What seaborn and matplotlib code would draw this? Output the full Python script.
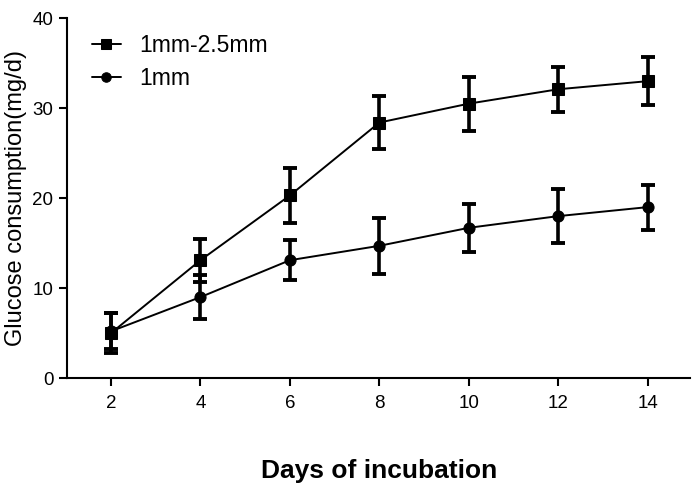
import matplotlib
matplotlib.use("Agg")
import matplotlib.pyplot as plt
import seaborn as sns
import pandas as pd

days = [2, 4, 6, 8, 10, 12, 14]
series_names = ["1mm-2.5mm", "1mm"]
mean_large = [5.0, 13.1, 20.3, 28.4, 30.5, 32.1, 33.0]
err_large = [2.2, 2.4, 3.1, 2.9, 3.0, 2.5, 2.7]
mean_small = [5.2, 9.0, 13.1, 14.7, 16.7, 18.0, 19.0]
err_small = [2.0, 2.4, 2.2, 3.1, 2.7, 3.0, 2.5]
y_ticks = [0, 10, 20, 30, 40]
x_ticks = [2, 4, 6, 8, 10, 12, 14]

sns.set_theme(style="ticks")
plt.rcParams['font.family'] = ['Liberation Sans', 'DejaVu Sans']
plt.rcParams['text.color'] = 'black'
plt.rcParams['axes.labelcolor'] = 'black'

df = pd.DataFrame({
    "day": days * 2,
    "value": mean_large + mean_small,
    "err": err_large + err_small,
    "series": [series_names[0]] * len(days) + [series_names[1]] * len(days),
})

fig = plt.figure(figsize=(7, 4.91), dpi=100)
ax = fig.add_axes([0.096, 0.230, 0.890, 0.733])

sns.lineplot(data=df, x="day", y="value", hue="series", style="series",
             markers={series_names[0]: "s", series_names[1]: "o"}, dashes=False,
             palette={series_names[0]: "black", series_names[1]: "black"},
             markersize=8, linewidth=1.4, markeredgecolor="black", ax=ax)

for name in series_names:
    sub = df[df["series"] == name]
    ax.errorbar(sub["day"], sub["value"], yerr=sub["err"], fmt="none",
                ecolor="black", elinewidth=2.6, capsize=5, capthick=2.8, zorder=3)

ax.set_xlim(1.02, 14.95)
ax.set_ylim(0, 40)
ax.set_xticks(x_ticks)
ax.set_yticks(y_ticks)
ax.tick_params(axis="both", direction="out", length=6, width=1.5, labelsize=13.5,
               colors="black", pad=4)
ax.tick_params(axis="x", pad=6)
for s in ["left", "bottom"]:
    ax.spines[s].set_linewidth(1.5)
    ax.spines[s].set_color("black")
sns.despine(ax=ax)

ax.set_xlabel("Days of incubation", fontsize=19, fontweight="bold", labelpad=34)
ax.set_ylabel("Glucose consumption(mg/d)", fontsize=17, labelpad=4)

leg = ax.legend(loc="upper left", frameon=False, fontsize=16.5, handlelength=1.3,
                handletextpad=0.8, bbox_to_anchor=(0.006, 1.012), labelspacing=0.42,
                title=None, markerscale=0.85)

fig.savefig("out.png", dpi=100)
